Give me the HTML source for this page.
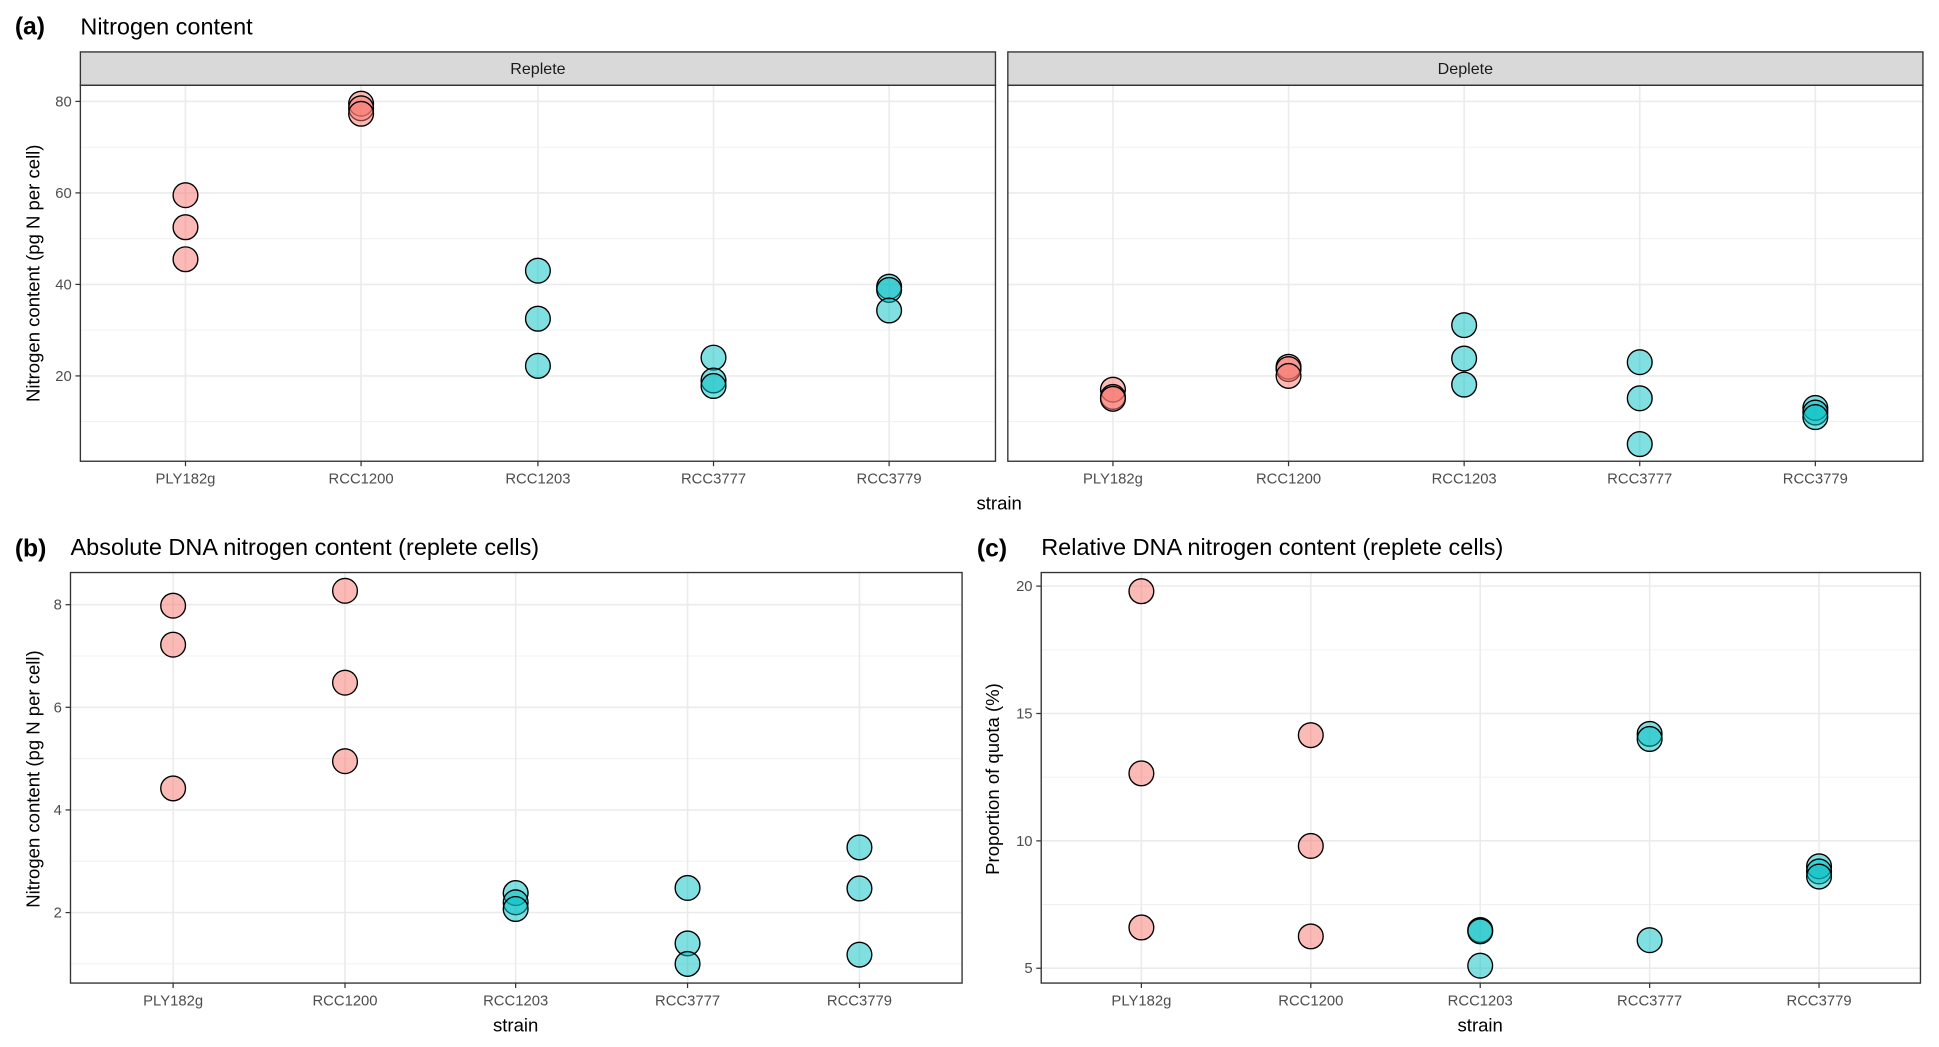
<!DOCTYPE html>
<html><head><meta charset="utf-8"><style>
html,body{margin:0;padding:0;background:#fff;}
svg{display:block;font-family:"Liberation Sans",sans-serif;}
</style></head><body>
<svg id="fig" width="1939" height="1047" viewBox="0 0 1568 846.7" preserveAspectRatio="none"></svg>
<script>
const strains = ["PLY182g","RCC1200","RCC1203","RCC3777","RCC3779"];
const groups = ["pink","pink","cyan","cyan","cyan"];
const repleteN = [[59.5,52.5,45.5],[79.5,78.5,77.3],[43,32.5,22.2],[24,19,17.8],[39.5,38.8,34.3]];
const depleteN = [[17,15.4,15],[22,21.5,20],[31.1,23.8,18.1],[23,15.1,5.1],[13,12,11]];
const absDNA = [[7.98,7.22,4.42],[8.27,6.48,4.95],[2.38,2.2,2.07],[2.48,1.4,1.0],[3.27,2.47,1.18]];
const relDNA = [[19.8,12.65,6.6],[14.15,9.8,6.25],[6.5,6.45,5.1],[14.2,14.0,6.1],[9.0,8.8,8.6]];
const ticksA = [20,40,60,80], minorA=[10,30,50,70];
const ticksB = [2,4,6,8], minorB=[1,3,5,7];
const ticksC = [5,10,15,20], minorC=[7.5,12.5,17.5];

const NS="http://www.w3.org/2000/svg";
const svg=document.getElementById('fig');
function el(tag,attrs,parent,text){const e=document.createElementNS(NS,tag);for(const k in attrs)e.setAttribute(k,attrs[k]);if(text!==undefined)e.textContent=text;(parent||svg).appendChild(e);return e;}

function panel(name,x0,x1,y0,y1,yScale,ticks,minor,data,showY,xs){
  const g=el('g',{});
  
  
  minor.forEach(v=>{el('line',{x1:x0,x2:x1,y1:yScale(v),y2:yScale(v),stroke:'#f0f0f0','stroke-width':0.8},g);});
  ticks.forEach(v=>{el('line',{x1:x0,x2:x1,y1:yScale(v),y2:yScale(v),stroke:'#ebebeb','stroke-width':1.3},g);});
  xs.forEach(x=>{el('line',{x1:x,x2:x,y1:y0,y2:y1,stroke:'#ebebeb','stroke-width':1.3},g);});
  data.forEach((vals,i)=>{vals.forEach(v=>{
    const c=el('circle',{cx:xs[i],cy:yScale(v),r:10,fill:groups[i]==='pink'?'#F8766D':'#00BFC4','fill-opacity':0.5,stroke:'#000','stroke-width':1.1},g);
    
    
  });});
  el('rect',{x:x0,y:y0,width:x1-x0,height:y1-y0,fill:'none',stroke:'#333','stroke-width':1.1},g);
  xs.forEach((x,i)=>{el('line',{x1:x,x2:x,y1:y1,y2:y1+4,stroke:'#333'},g);
    const t=el('text',{x:x,y:y1+18,'font-size':12,fill:'#4d4d4d','text-anchor':'middle'},g,strains[i]);
    });
  if(showY){ticks.forEach(v=>{el('line',{x1:x0-4,x2:x0,y1:yScale(v),y2:yScale(v),stroke:'#333'},g);
    const t=el('text',{x:x0-7,y:yScale(v)+4,'font-size':12,fill:'#4d4d4d','text-anchor':'end'},g,v);
    });}
}
function lin(v0,p0,v1,p1){return v=>p0+(v-v0)*(p1-p0)/(v1-v0);}

// Panel a
const yA=lin(20,304,80,82);
el('rect',{x:65,y:42,width:740,height:27,fill:'#d9d9d9',stroke:'#333','stroke-width':1.1});
el('rect',{x:815,y:42,width:740,height:27,fill:'#d9d9d9',stroke:'#333','stroke-width':1.1});
el('text',{x:435,y:60,'font-size':13,fill:'#1a1a1a','text-anchor':'middle'},svg,'Replete');
el('text',{x:1185,y:60,'font-size':13,fill:'#1a1a1a','text-anchor':'middle'},svg,'Deplete');
panel('panel-a-replete',65,805,69,373,yA,ticksA,minorA,repleteN,true,[150,292,435,577,719]);
panel('panel-a-deplete',815,1555,69,373,yA,ticksA,minorA,depleteN,false,[900,1042,1184,1326,1468]);
el('text',{x:12,y:28,'font-size':20,'font-weight':'bold'},svg,'(a)');
el('text',{x:65,y:28,'font-size':19},svg,'Nitrogen content');
el('text',{x:808,y:412,'font-size':15,'text-anchor':'middle'},svg,'strain');
el('text',{transform:'translate(32,221) rotate(-90)','font-size':15,'text-anchor':'middle'},svg,'Nitrogen content (pg N per cell)');

// Panel b
const yB=lin(2,738,8,489);
panel('panel-b',57,778,463,795,yB,ticksB,minorB,absDNA,true,[140,279,417,556,695]);
el('text',{x:12,y:450,'font-size':20,'font-weight':'bold'},svg,'(b)');
el('text',{x:57,y:449,'font-size':19},svg,'Absolute DNA nitrogen content (replete cells)');
el('text',{x:417,y:834,'font-size':15,'text-anchor':'middle'},svg,'strain');
el('text',{transform:'translate(32,630) rotate(-90)','font-size':15,'text-anchor':'middle'},svg,'Nitrogen content (pg N per cell)');

// Panel c
const yC=lin(5,783,20,474);
panel('panel-c',842,1553,463,795,yC,ticksC,minorC,relDNA,true,[923,1060,1197,1334,1471]);
el('text',{x:790,y:450,'font-size':20,'font-weight':'bold'},svg,'(c)');
el('text',{x:842,y:449,'font-size':19},svg,'Relative DNA nitrogen content (replete cells)');
el('text',{x:1197,y:834,'font-size':15,'text-anchor':'middle'},svg,'strain');
el('text',{transform:'translate(808,630) rotate(-90)','font-size':15,'text-anchor':'middle'},svg,'Proportion of quota (%)');
</script>
</body></html>
